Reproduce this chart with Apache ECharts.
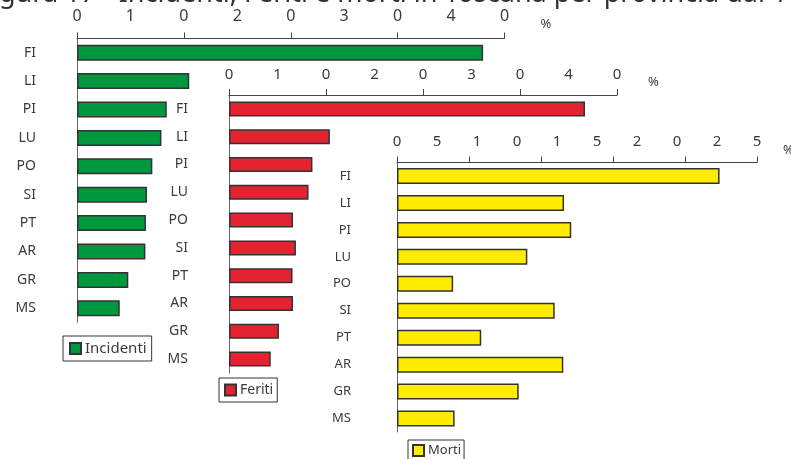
<!DOCTYPE html>
<html>
<head>
<meta charset="utf-8">
<script src="https://cdn.jsdelivr.net/npm/echarts@6/dist/echarts.min.js"></script>
<style>
  html, body { margin: 0; padding: 0; background: #fff; }
  #chart { width: 791px; height: 459px; }
</style>
</head>
<body>
<div id="chart"></div>
<script>
// Provinces (same order in all three panels, largest share first)
const provinces = ['FI', 'LI', 'PI', 'LU', 'PO', 'SI', 'PT', 'AR', 'GR', 'MS'];

// Share of the regional total, in %
const incidenti = [38.0, 10.5, 8.4, 7.9, 7.05, 6.55, 6.45, 6.4, 4.8, 4.0];
const feriti    = [36.7, 10.4, 8.6, 8.2, 6.6, 6.9, 6.55, 6.6, 5.15, 4.3];
const morti     = [22.4, 11.6, 12.1, 9.05, 3.9, 10.95, 5.85, 11.55, 8.45, 4.0];

// Axis tick positions and the digit labels printed along each scale
const incidentiTicks = [0, 10, 20, 30, 40];
const feritiTicks    = [0, 10, 20, 30, 40];
const mortiTicks     = [0, 5, 10, 15, 20, 25];
const incidentiTickText = ['0', '1', '0', '2', '0', '3', '0', '4', '0'];
const feritiTickText    = ['0', '1', '0', '2', '0', '3', '0', '4', '0'];
const mortiTickText     = ['0', '5', '1', '0', '1', '5', '2', '0', '2', '5'];

const titleText = 'Figura 17 - Incidenti, Feriti e morti in Toscana per provincia dal 1';

const FONT = 'Noto Sans';
const TEXT = '#3a3a3a';

// Digits are spread evenly over the whole scale
function spread(max, n) {
  const out = [];
  for (let i = 0; i < n; i++) out.push(max * i / (n - 1));
  return out;
}

function xAxisFor(idx, max, ticks, text, fontSize, labelMargin, nameGap, nameLift) {
  const labelVals = spread(max, text.length);
  return {
    gridIndex: idx, type: 'value', position: 'top', min: 0, max: max,
    axisLine: { show: true, lineStyle: { color: '#444', width: 1 } },
    axisTick: { show: true, inside: false, length: 6, customValues: ticks,
                lineStyle: { color: '#444', width: 1 } },
    axisLabel: {
      show: true, customValues: labelVals, margin: labelMargin,
      color: TEXT, fontFamily: FONT, fontSize: fontSize,
      formatter: function (v) {
        let best = 0, d = Infinity;
        labelVals.forEach(function (lv, i) {
          if (Math.abs(lv - v) < d) { d = Math.abs(lv - v); best = i; }
        });
        return text[best];
      }
    },
    splitLine: { show: false },
    name: '%', nameLocation: 'end', nameGap: nameGap,
    nameTextStyle: { color: TEXT, fontFamily: FONT, fontSize: 13,
                     verticalAlign: 'bottom', lineHeight: nameLift * 2 }
  };
}

function yAxisFor(idx, fontSize, margin) {
  return {
    gridIndex: idx, type: 'category', data: provinces, inverse: true,
    axisLine: { show: true, lineStyle: { color: '#666', width: 1 } },
    axisTick: { show: false },
    axisLabel: { color: TEXT, fontFamily: FONT, fontSize: fontSize, margin: margin }
  };
}

function barSeries(name, idx, data, color, width) {
  return {
    name: name, type: 'bar', xAxisIndex: idx, yAxisIndex: idx,
    data: data, barWidth: width,
    itemStyle: { color: color, borderColor: '#333', borderWidth: 1.5 },
    emphasis: { disabled: true }, silent: true
  };
}

function legendFor(name, left, top, fontSize, pad) {
  return {
    data: [name], left: left, top: top, orient: 'horizontal',
    icon: 'rect', itemWidth: 11, itemHeight: 11, itemGap: 4,
    padding: pad, borderColor: '#333', borderWidth: 1,
    textStyle: { color: TEXT, fontFamily: FONT, fontSize: fontSize, padding: [0, 0, 0, -1] },
    selectedMode: false
  };
}

const chart = echarts.init(document.getElementById('chart'), null, { renderer: 'canvas' });
chart.setOption({
  animation: false,
  backgroundColor: '#fff',
  graphic: [{
    type: 'text', left: -22, top: -19, silent: true,
    style: { text: titleText, font: '27px "Noto Sans"', fill: '#333' }
  }],
  grid: [
    { left: 77,  top: 38.5, width: 427.5, height: 284, outerBoundsMode: 'none', containLabel: false },
    { left: 229, top: 95,   width: 388,   height: 278, outerBoundsMode: 'none', containLabel: false },
    { left: 397, top: 162.5, width: 360,  height: 269.5, outerBoundsMode: 'none', containLabel: false }
  ],
  xAxis: [
    xAxisFor(0, 40, incidentiTicks, incidentiTickText, 16, 14, 36, 14),
    xAxisFor(1, 40, feritiTicks, feritiTickText, 15, 13, 31, 13),
    xAxisFor(2, 25, mortiTicks, mortiTickText, 15, 13, 26, 12)
  ],
  yAxis: [
    yAxisFor(0, 14, 41),
    yAxisFor(1, 14, 41),
    yAxisFor(2, 13, 46)
  ],
  legend: [
    legendFor('Incidenti', 63, 336, 15, [5, 5, 5, 6]),
    legendFor('Feriti', 219, 378, 14, [5, 4, 5, 5]),
    legendFor('Morti', 408, 440, 13, [4, 3, 4, 4])
  ],
  series: [
    barSeries('Incidenti', 0, incidenti, '#00983f', 16),
    barSeries('Feriti', 1, feriti, '#e42330', 15),
    barSeries('Morti', 2, morti, '#ffec00', 16)
  ]
});
</script>
</body>
</html>
